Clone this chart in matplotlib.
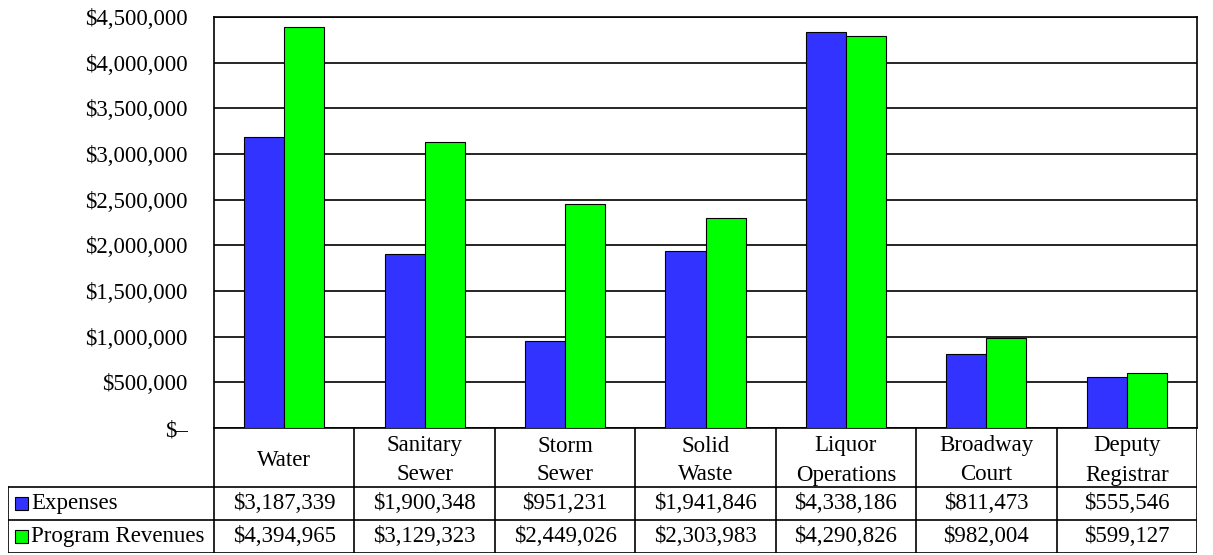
import numpy as np
import matplotlib
matplotlib.use("Agg")
import matplotlib.pyplot as plt
from matplotlib.patches import Rectangle
from matplotlib.ticker import FuncFormatter, MultipleLocator

plt.rcParams['font.family'] = ['Liberation Serif', 'DejaVu Serif']

categories = ["Water", "Sanitary\nSewer", "Storm\nSewer", "Solid\nWaste",
              "Liquor\nOperations", "Broadway\nCourt", "Deputy\nRegistrar"]
expenses = [3187339, 1900348, 951231, 1941846, 4338186, 811473, 555546]
revenues = [4394965, 3129323, 2449026, 2303983, 4290826, 982004, 599127]
series_names = ["Expenses", "Program Revenues"]
colors = ["#3333FF", "#00FF00"]

FS = 16.5
W, H = 1213, 555
fig = plt.figure(figsize=(W / 100, H / 100), dpi=100)

# plot area in pixels
left, right, top, bottom = 214, 1197, 17, 428
ax = fig.add_axes([left / W, (H - bottom) / H, (right - left) / W, (bottom - top) / H])

n = len(categories)
x = np.arange(n) + 0.5
bw = 0.285
ax.bar(x - bw / 2, expenses, bw, color=colors[0], edgecolor="black", linewidth=0.8, zorder=3)
ax.bar(x + bw / 2, revenues, bw, color=colors[1], edgecolor="black", linewidth=0.8, zorder=3)

ax.set_xlim(0, n)
ax.set_ylim(0, 4500000)
ax.yaxis.set_major_locator(MultipleLocator(500000))
ax.yaxis.set_major_formatter(FuncFormatter(lambda v, p: "$\u2013" if v == 0 else f"${v:,.0f}"))
ax.yaxis.grid(True, color="black", linewidth=1.2, zorder=0)
ax.set_xticks([])
ax.tick_params(axis="y", length=0, pad=19, labelsize=FS)
for s in ax.spines.values():
    s.set_color("black")
    s.set_linewidth(1.2)

# data table below the plot
t_left, t_bottom = 8, 553
tax = fig.add_axes([t_left / W, (H - t_bottom) / H, (right - t_left) / W, (t_bottom - bottom) / H])
col_w = (right - left) / n
lab_x = -(left - t_left) / col_w
tax.set_xlim(lab_x, n)
tax.set_ylim(0, t_bottom - bottom)
tax.axis("off")

row_h = 33
head_top = t_bottom - bottom
kw = dict(color="black", linewidth=1.2, solid_capstyle="projecting")
# header row
for i in range(n + 1):
    tax.plot([i, i], [2 * row_h, head_top], **kw)
for i, c in enumerate(categories):
    tax.text(i + 0.5, (2 * row_h + head_top) / 2 - 3, c, ha="center", va="center",
             fontsize=FS, linespacing=1.5)
# value rows
for yy in [0, row_h, 2 * row_h]:
    tax.plot([lab_x, n], [yy, yy], **kw)
for xx in [lab_x] + list(range(n + 1)):
    tax.plot([xx, xx], [0, 2 * row_h], **kw)

for r, (name, vals, col) in enumerate(zip(series_names, [expenses, revenues], colors)):
    yc = 2 * row_h - (r + 0.5) * row_h
    tax.add_patch(Rectangle((lab_x + 7 / col_w, yc - 6.5), 13 / col_w, 13, facecolor=col,
                            edgecolor="black", linewidth=0.8))
    tax.text(lab_x + 23 / col_w, yc, name, ha="left", va="center", fontsize=FS)
    for i, v in enumerate(vals):
        tax.text(i + 0.5, yc, f"${v:,}", ha="center", va="center", fontsize=FS)

fig.savefig("out.png", dpi=100)
